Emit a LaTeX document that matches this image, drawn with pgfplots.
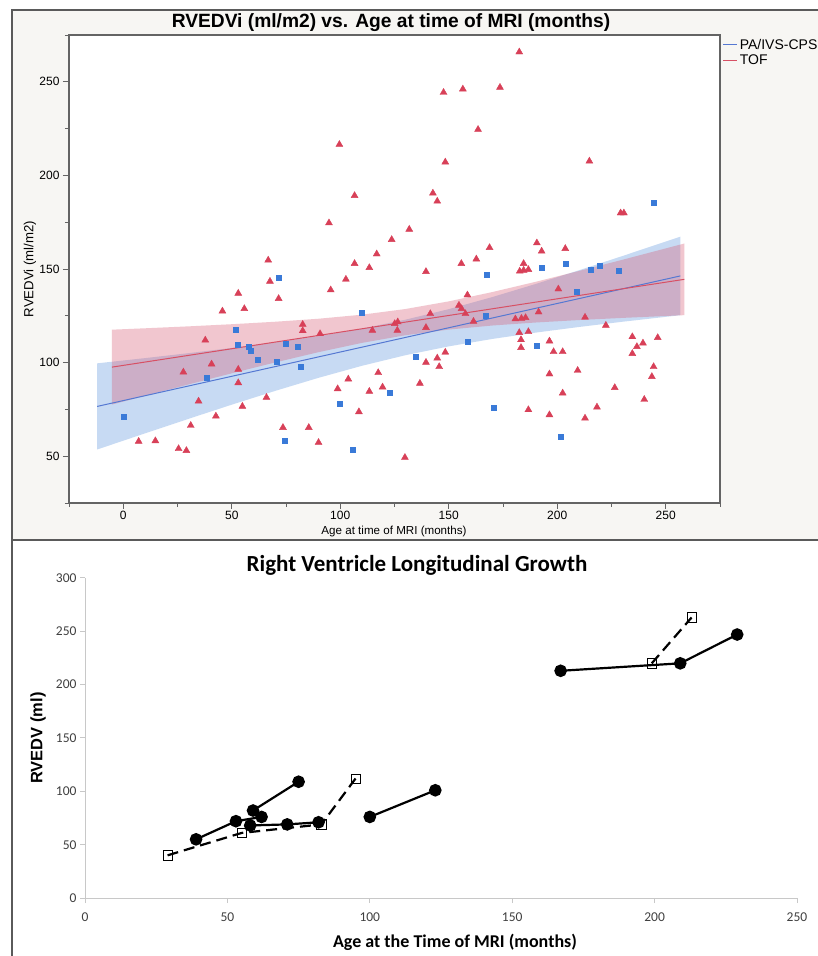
\documentclass[border=0pt]{standalone}
\usepackage{fontspec}
\setmainfont{Liberation Sans}
\newfontfamily\carlito{Carlito}
\usepackage{pgfplots}
\pgfplotsset{compat=1.18}
\definecolor{panelbg}{RGB}{247,246,243}
\definecolor{framegray}{RGB}{90,90,90}
\definecolor{bluemk}{RGB}{58,122,216}
\definecolor{redmk}{RGB}{216,64,88}
\definecolor{blueln}{RGB}{85,120,210}
\definecolor{redln}{RGB}{215,80,100}
\definecolor{blueband}{RGB}{110,160,225}
\definecolor{redband}{RGB}{215,90,115}
\definecolor{axgray}{RGB}{100,100,100}
\definecolor{xlgray}{RGB}{200,200,200}
\definecolor{ticktxt}{RGB}{64,64,64}
\begin{document}
\begin{tikzpicture}[x=1pt,y=1pt]
\useasboundingbox (0,0) rectangle (818,956);
\fill[white] (0,0) rectangle (818,956);
\fill[panelbg] (12,416) rectangle (830,946);
\draw[framegray, line width=1.4pt] (830,946) -- (12,946) -- (12,0);
\draw[framegray, line width=2pt] (12,416) -- (830,416);

\node[font=\bfseries\fontsize{19.2}{21}\selectfont] at (391,933) {RVEDVi (ml/m2) vs. Age at time of MRI (months)};
\node[font=\fontsize{11.6}{12}\selectfont] at (394,424) {Age at time of MRI (months)};
\node[font=\fontsize{13.2}{14}\selectfont, rotate=90] at (30,687) {RVEDVi (ml/m2)};

\begin{axis}[
  at={(69pt,453pt)}, anchor=south west, scale only axis,
  width=651pt, height=468pt,
  xmin=-25, xmax=275, ymin=25, ymax=275,
  xtick={0,50,...,250}, ytick={50,100,...,250},
  minor xtick={-25,25,75,125,175,225,275},
  minor ytick={25,75,125,175,225,275},
  xtick pos=lower, ytick pos=left,
  tick align=outside, major tick length=6pt, minor tick length=4pt,
  every tick/.style={axgray, line width=0.8pt},
  axis line style={axgray, line width=1.2pt},
  axis background/.style={fill=white},
  tick label style={font=\fontsize{12}{12}\selectfont},
  xticklabel style={yshift=1pt},
  /pgf/number format/assume math mode=true,
  legend style={at={(1.004,0.996)}, anchor=north west, draw=none, fill=none,
    font=\fontsize{14}{15}\selectfont, inner sep=0pt, row sep=0.5pt,
    /tikz/every even column/.append style={column sep=2pt}},
  legend cell align=left,
  legend image code/.code={\draw[#1, line width=1pt] (0pt,0pt) -- (14pt,0pt);},
]
\addplot[only marks, mark=square*, mark size=2.5pt, color=bluemk, forget plot] coordinates {
(0.2,71.3) (38.3,91.9) (51.8,117.8) (52.9,109.4) (57.6,108.5) (58.6,106.2)
(61.9,101.3) (70.8,100.5) (71.6,145.2) (74.2,58.4) (74.8,109.9) (80.5,108.5)
(81.8,98.0) (99.7,77.8) (105.7,53.4) (109.9,126.5) (122.8,83.9) (134.6,103.2)
(158.6,111.0) (166.9,125.1) (167.6,147.0) (170.8,76.0) (190.6,109.0) (192.8,150.5)
(201.7,60.4) (203.7,152.7) (208.8,137.7) (215.4,149.5) (219.5,151.8) (228.2,148.9)
(244.4,185.3)};
\addplot[only marks, mark=triangle*, mark size=4pt, color=redmk, forget plot] coordinates {
(7.1,57.9) (14.8,58.2) (25.5,54) (29.1,53) (27.7,94.9) (31.1,66.4) (34.7,79.4)
(37.8,112) (40.7,99.2) (42.7,71.4) (45.7,127.5) (53,137) (53,96.4) (53,89.2)
(54.9,76.6) (55.8,128.8) (66,81.4) (66.8,154.7) (67.6,143.4) (71.6,134.2)
(73.6,65.3) (82.7,120.4) (82.7,117) (85.5,65.3) (90,57.3) (90.7,115.4)
(94.8,174.6) (95.6,138.8) (98.8,86) (99.6,216.5) (102.6,144.5) (103.7,91.2)
(106.6,189.2) (106.6,152.9) (108.6,73.7) (113.4,150.7) (113.4,84.6) (114.8,117.2)
(116.8,158) (117.5,94.6) (119.5,86.9) (123.7,165.7) (125.1,120.8) (126.5,121.7)
(126.3,117.2) (129.8,49.3) (131.8,171.2) (136.7,88.9) (139.5,148.6) (139.5,118.7)
(139.5,100.1) (141.5,126.1) (142.7,190.5) (144.7,186.2) (144.7,102.4) (145.6,97.8)
(147.6,244.3) (148.4,207.1) (148.4,105.5) (154.7,130.6) (155.9,128.8) (155.8,152.9)
(156.5,246.1) (157.7,126.1) (158.6,136.1) (161.4,122) (162.7,155.3) (163.5,224.5)
(168.8,161.4) (173.6,247) (180.7,123.3) (182.5,265.9) (182.5,116) (182.7,148.8)
(183.5,123.6) (183.3,112.2) (183.3,108) (184.5,152.9) (184.5,149.3) (185.4,124)
(186.7,149.7) (186.7,116.5) (186.7,74.8) (190.6,163.9) (191.4,127) (192.8,159.5)
(196.4,111.5) (196.4,93.9) (196.4,72.1) (198.3,105.8) (200.5,139.3) (202.5,105.8)
(202.5,83.7) (203.7,160.9) (209.4,95.8) (212.8,124.2) (212.8,70.3) (214.8,207.6)
(218.3,76.2) (222.4,119.9) (226.5,86.6) (229.2,179.9) (230.7,179.9) (234.6,113.8)
(234.6,104.8) (236.7,108.5) (239.5,110.4) (240.1,80.3) (243.6,92.5) (244.4,97.8)
(246.3,113.3)};
% confidence bands
\addplot[draw=none, fill=blueband, fill opacity=0.38, forget plot] coordinates {
(-12,99.6) (10,102.39) (30,105.03) (50,107.82) (70,110.84) (90,114.23) (110,118.17)
(130,122.91) (150,128.55) (170,134.98) (190,141.97) (210,149.32) (230,156.91) (256.7,167.27)
(256.7,125.31) (230,121.81) (210,119.02) (190,116.01) (170,112.62) (150,108.67) (130,103.93)
(110,98.29) (90,91.87) (70,84.88) (50,77.52) (30,69.93) (10,62.19) (-12,53.58)} -- cycle;
\addplot[draw=none, fill=redband, fill opacity=0.34, forget plot] coordinates {
(-5.2,117.58) (10,118.32) (30,119.35) (50,120.50) (70,121.82) (90,123.43) (110,125.59)
(130,128.61) (150,132.70) (170,137.66) (190,143.15) (210,148.95) (230,154.91) (258.6,163.62)
(258.6,125.34) (230,123.87) (210,122.73) (190,121.41) (170,119.80) (150,117.64) (130,114.61)
(110,110.53) (90,105.57) (70,100.08) (50,94.28) (30,88.31) (10,82.24) (-5.2,77.58)} -- cycle;
% fit lines
\addplot[blueln, line width=1pt] coordinates {(-12,76.59) (256.7,146.29)};
\addlegendentry{PA/IVS-CPS}
\addplot[redln, line width=1pt] coordinates {(-5.2,97.58) (258.6,144.48)};
\addlegendentry{TOF}
\end{axis}

% bottom panel
\node[font=\carlito\bfseries\fontsize{23}{25}\selectfont] at (417,391) {Right Ventricle Longitudinal Growth};
\node[font=\carlito\bfseries\fontsize{18}{20}\selectfont] at (455,14) {Age at the Time of MRI (months)};
\node[font=\bfseries\fontsize{16.5}{17}\selectfont, rotate=90] at (38,218) {RVEDV (ml)};

\begin{axis}[
  at={(85pt,58pt)}, anchor=south west, scale only axis,
  width=712pt, height=320pt,
  xmin=0, xmax=250, ymin=0, ymax=300,
  axis x line*=bottom, axis y line*=left,
  axis line style={xlgray, line width=1pt},
  xtick={0,50,...,250}, ytick={0,50,...,300},
  tick align=outside, major tick length=5pt,
  every tick/.style={xlgray, line width=1pt},
  tick label style={font=\carlito\fontsize{13.5}{14}\selectfont, text=ticktxt},
  xticklabel style={yshift=-6pt},
  /pgf/number format/assume math mode=true,
]
\addplot[black, line width=2.2pt, mark=*, mark size=5.2pt] coordinates {(39,55) (53,72) (62,76)};
\addplot[black, line width=2.2pt, mark=*, mark size=5.2pt] coordinates {(59,82) (75,109)};
\addplot[black, line width=2.2pt, mark=*, mark size=5.2pt] coordinates {(58,68) (71,69) (82,71)};
\addplot[black, line width=2.2pt, mark=*, mark size=5.2pt] coordinates {(100,76) (123,101)};
\addplot[black, line width=2.2pt, mark=*, mark size=5.2pt] coordinates {(167,213) (209,220) (229,247)};
\addplot[black, line width=2.2pt, dash pattern=on 11pt off 6pt, mark=square, mark size=4.6pt,
  mark options={solid, line width=0.8pt, fill=none}] coordinates {(29,40) (55,61) (83,69) (95,112)};
\addplot[black, line width=2.2pt, dash pattern=on 11pt off 6pt, mark=square, mark size=4.6pt,
  mark options={solid, line width=0.8pt, fill=none}] coordinates {(199,220) (213,263)};
\end{axis}
\end{tikzpicture}
\end{document}
